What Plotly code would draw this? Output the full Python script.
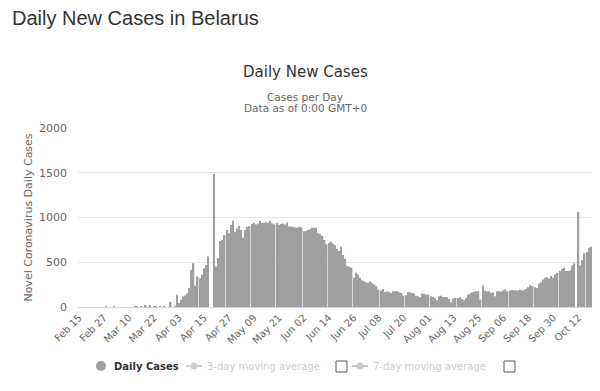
import pandas as pd
import plotly.graph_objects as go

# ---------------- data ----------------
start_date = "2020-02-15"
daily_cases = [
    0, 0, 0, 0, 0, 0, 0, 0, 0, 0, 0, 0, 0,
    1, 0, 0, 0, 2, 0, 0, 0, 0, 0, 0, 0, 0, 0,
    2, 1, 0, 2, 0, 14, 0, 12, 0, 2, 1, 0, 2, 0, 2, 0, 0,
    58, 0, 11,
    137, 44, 81, 118, 129, 155, 211, 415, 489, 237, 341, 322, 359, 433, 470, 563,
    0, 0, 1485,
    452, 545, 737, 748,
    804, 860, 823, 915, 964, 841, 878, 904, 860, 775,
    860, 897, 904, 926, 941, 922, 934, 960, 941, 941,
    945, 941, 960, 934, 922, 941, 919, 926, 934, 922,
    945, 900, 898, 897, 890, 885, 895, 890, 845, 850,
    860, 868, 885, 885, 885, 824, 812, 794, 749, 700,
    719, 730, 708, 689, 652, 625, 674, 580, 539, 457,
    449, 438, 326, 382, 363, 326, 300, 288, 277, 270,
    288, 270, 251, 232, 195, 184, 202, 165, 176, 169,
    157, 176, 176, 176, 165, 157, 127, 131, 165, 165,
    157, 150, 127, 120, 109, 150, 146, 139, 139, 120,
    112, 101, 75, 120, 127, 112, 112, 109, 90, 52,
    94, 101, 101, 109, 90, 75, 97, 139, 150, 165,
    172, 176, 176, 82, 240, 184, 176, 176, 157, 165,
    120, 176, 176, 172, 184, 195, 172, 184, 191, 187,
    187, 184, 195, 187, 187, 202, 221, 243, 232, 221,
    213, 262, 277, 307, 326, 333, 318, 345, 326, 363,
    382, 401, 427, 438, 401, 401, 408, 464, 487, 0,
    1063, 464, 524, 599, 614, 663, 674,
]
tick_step_days = 12
y_ticks = [0, 500, 1000, 1500, 2000]
legend_labels = ["Daily Cases", "3-day moving average", "7-day moving average"]

dates = pd.date_range(start_date, periods=len(daily_cases), freq="D")
tick_dates = dates[::tick_step_days]
tick_text = [d.strftime("%b %d") for d in tick_dates]

# ---------------- layout geometry (page pixels) ----------------
OFF = 8  # default body margin of the html page
W_PX, H_PX = 600 - OFF, 391 - OFF
L, R, T, B = 78 - OFF, 592 - OFF, 128 - OFF, 307 - OFF
PW, PH = R - L, B - T


def px(x):  # page pixel -> paper
    return (x - OFF - L) / PW


def py(y):
    return (B - (y - OFF)) / PH


FONT = "DejaVu Sans"
BAR_COLOR = "#9f9f9f"

fig = go.Figure()
fig.add_trace(go.Bar(
    x=dates, y=daily_cases, marker=dict(color=BAR_COLOR, line=dict(width=0)),
    showlegend=False, name=legend_labels[0],
))

x0 = dates[0] - pd.Timedelta(hours=12)
x1 = dates[-1] + pd.Timedelta(hours=12)

fig.update_layout(
    width=W_PX, height=H_PX,
    margin=dict(l=L, r=W_PX - R, t=T, b=H_PX - B),
    paper_bgcolor="white", plot_bgcolor="white",
    bargap=0.3,
    showlegend=False,
    font=dict(family=FONT, color="#666666", size=11),
    xaxis=dict(
        type="date", range=[x0, x1],
        tickmode="array", tickvals=list(tick_dates), ticktext=tick_text,
        tickangle=-45, tickfont=dict(size=10, color="#666666", family=FONT),
        showgrid=False, showline=True, linecolor="#ccd6eb", linewidth=1,
        ticks="", zeroline=False,
    ),
    yaxis=dict(
        range=[0, 2000], tickvals=y_ticks,
        showgrid=True, gridcolor="#e6e6e6", gridwidth=1,
        zeroline=False, showline=False, ticks="",
        tickfont=dict(size=11, color="#666666", family=FONT),
        ticklabelstandoff=10,
        title=dict(text="Novel Coronavirus Daily Cases",
                   font=dict(size=11, color="#666666", family=FONT), standoff=4),
    ),
)

ann = []
ann.append(dict(text="Daily New Cases in Belarus", x=px(10), y=py(18), xref="paper", yref="paper",
                xanchor="left", yanchor="middle", showarrow=False,
                font=dict(family="Liberation Sans", size=20, color="#333333")))
ann.append(dict(text="Daily New Cases", x=px(305), y=py(72), xref="paper", yref="paper",
                xanchor="center", yanchor="middle", showarrow=False,
                font=dict(family=FONT, size=15, color="#333333")))
ann.append(dict(text="Cases per Day", x=px(305), y=py(97), xref="paper", yref="paper",
                xanchor="center", yanchor="middle", showarrow=False,
                font=dict(family=FONT, size=10.5, color="#666666")))
ann.append(dict(text="Data as of 0:00 GMT+0", x=px(305), y=py(108.5), xref="paper", yref="paper",
                xanchor="center", yanchor="middle", showarrow=False,
                font=dict(family=FONT, size=10.5, color="#666666")))

LY = 366
ann.append(dict(text="<b>" + legend_labels[0] + "</b>", x=px(112), y=py(LY), xref="paper", yref="paper",
                xanchor="left", yanchor="middle", showarrow=False,
                font=dict(family=FONT, size=10, color="#333333")))
ann.append(dict(text=legend_labels[1], x=px(205), y=py(LY), xref="paper", yref="paper",
                xanchor="left", yanchor="middle", showarrow=False,
                font=dict(family=FONT, size=10, color="#cccccc")))
ann.append(dict(text=legend_labels[2], x=px(371), y=py(LY), xref="paper", yref="paper",
                xanchor="left", yanchor="middle", showarrow=False,
                font=dict(family=FONT, size=10, color="#cccccc")))

shapes = []
shapes.append(dict(type="circle", xref="paper", yref="paper",
                   x0=px(96), x1=px(106), y0=py(LY + 5), y1=py(LY - 5),
                   fillcolor=BAR_COLOR, line=dict(width=0)))
for cx in (194, 360):
    shapes.append(dict(type="line", xref="paper", yref="paper",
                       x0=px(cx - 8), x1=px(cx + 8), y0=py(LY), y1=py(LY),
                       line=dict(color="#cccccc", width=2)))
    shapes.append(dict(type="circle", xref="paper", yref="paper",
                       x0=px(cx - 3.5), x1=px(cx + 3.5), y0=py(LY + 3.5), y1=py(LY - 3.5),
                       fillcolor="#cccccc", line=dict(width=0)))
for bx in (336, 504):
    shapes.append(dict(type="rect", xref="paper", yref="paper",
                       x0=px(bx), x1=px(bx + 11), y0=py(LY + 6), y1=py(LY - 5),
                       fillcolor="white", line=dict(color="#555555", width=1)))

fig.update_layout(annotations=ann, shapes=shapes)
fig.write_html("out.html")
